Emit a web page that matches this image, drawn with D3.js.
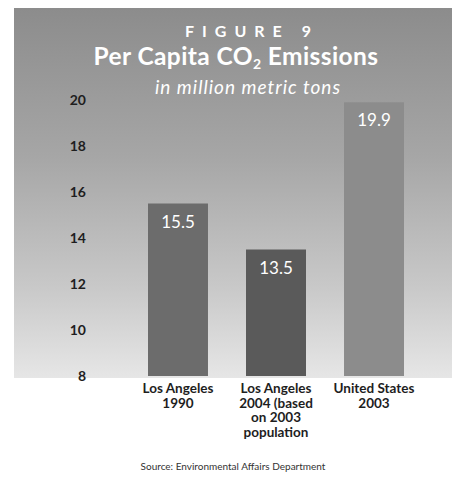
<!DOCTYPE html>
<html>
<head>
<meta charset="utf-8">
<script src="https://cdn.jsdelivr.net/npm/d3@7"></script>
<style>
  html, body { margin: 0; padding: 0; background: #ffffff; }
  svg { display: block; }
  text { font-family: Lato, "Open Sans", sans-serif; }
</style>
</head>
<body>
<svg id="chart" width="462" height="478"></svg>
<script>
// Per capita CO2 emissions, million metric tons
const categories = [
  ["Los Angeles", "1990"],
  ["Los Angeles", "2004 (based", "on 2003", "population"],
  ["United States", "2003"]
];
const values = [15.5, 13.5, 19.9];
const valueLabels = ["15.5", "13.5", "19.9"];
const yTicks = [8, 10, 12, 14, 16, 18, 20];
const barColors = ["#6c6c6c", "#5a5a5a", "#8c8c8c"];

const svg = d3.select("#chart");

// panel with a top-to-bottom fade
const defs = svg.append("defs");
const grad = defs.append("linearGradient")
  .attr("id", "panelFade").attr("x1", 0).attr("y1", 0).attr("x2", 0).attr("y2", 1);
grad.append("stop").attr("offset", "0%").attr("stop-color", "#8c8c8c");
grad.append("stop").attr("offset", "40%").attr("stop-color", "#a6a6a6");
grad.append("stop").attr("offset", "75%").attr("stop-color", "#c8c8c8");
grad.append("stop").attr("offset", "100%").attr("stop-color", "#e6e6e6");

svg.append("rect")
  .attr("x", 14).attr("y", 8).attr("width", 438).attr("height", 370)
  .attr("fill", "url(#panelFade)");

// titles
svg.append("text")
  .attr("x", 185).attr("y", 37)
  .attr("fill", "#ffffff")
  .attr("font-size", 16).attr("font-weight", 700)
  .attr("letter-spacing", "8px")
  .text("FIGURE 9");

const title = svg.append("text")
  .attr("x", 236).attr("y", 65)
  .attr("text-anchor", "middle")
  .attr("fill", "#ffffff")
  .attr("font-size", 24.5).attr("font-weight", 700)
  .attr("letter-spacing", "0.4px");
title.append("tspan").text("Per Capita CO");
title.append("tspan").attr("font-size", 14).attr("dy", 4).text("2");
title.append("tspan").attr("dy", -4).text(" Emissions");

svg.append("text")
  .attr("x", 248).attr("y", 94)
  .attr("text-anchor", "middle")
  .attr("fill", "#ffffff")
  .attr("font-size", 19).attr("font-style", "italic")
  .attr("letter-spacing", "1px")
  .text("in million metric tons");

// scales
const x = d3.scaleBand()
  .domain(d3.range(values.length))
  .range([148, 404])
  .paddingInner(0.388)
  .paddingOuter(0);

const y = d3.scaleLinear().domain([8, 20]).range([376, 100]);

// y axis labels (no line, no tick marks)
const yAxis = d3.axisLeft(y).tickValues(yTicks).tickSize(0).tickPadding(0);
const yg = svg.append("g").attr("transform", "translate(86,0)").call(yAxis);
yg.select(".domain").remove();
yg.selectAll("text")
  .attr("font-family", "Lato, \"Open Sans\", sans-serif")
  .attr("font-size", 14).attr("font-weight", 700)
  .attr("fill", "#1e1e1e");

// bars
svg.append("g").selectAll("rect")
  .data(values)
  .join("rect")
  .attr("x", (d, i) => x(i))
  .attr("width", x.bandwidth())
  .attr("y", d => y(d))
  .attr("height", d => y(8) - y(d))
  .attr("fill", (d, i) => barColors[i]);

// value labels inside bar tops
svg.append("g").selectAll("text")
  .data(values)
  .join("text")
  .attr("x", (d, i) => x(i) + x.bandwidth() / 2)
  .attr("y", d => y(d) + 24)
  .attr("text-anchor", "middle")
  .attr("fill", "#ffffff")
  .attr("font-size", 17)
  .text((d, i) => valueLabels[i]);

// category labels
const xg = svg.append("g");
categories.forEach((lines, i) => {
  const cx = x(i) + x.bandwidth() / 2;
  const t = xg.append("text")
    .attr("x", cx)
    .attr("y", 393)
    .attr("text-anchor", "middle")
    .attr("fill", "#1e1e1e")
    .attr("font-size", 13.5).attr("font-weight", 700);
  lines.forEach((ln, k) => {
    t.append("tspan")
      .attr("x", cx)
      .attr("dy", k === 0 ? 0 : 14.5)
      .text(ln);
  });
});

// source note
svg.append("text")
  .attr("x", 233).attr("y", 470)
  .attr("text-anchor", "middle")
  .attr("fill", "#333333")
  .attr("font-size", 10)
  .text("Source: Environmental Affairs Department");
</script>
</body>
</html>
